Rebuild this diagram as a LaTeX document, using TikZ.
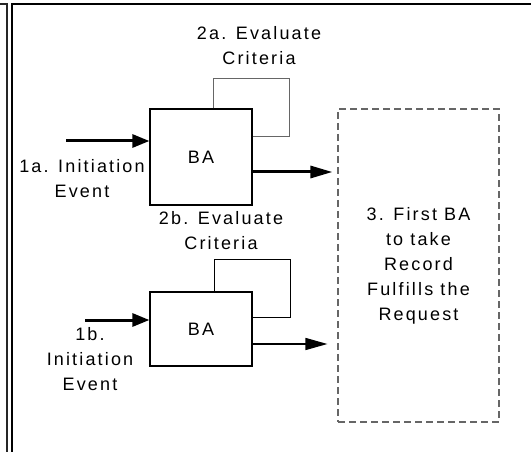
\documentclass[tikz,border=0pt]{standalone}
\usepackage{fontspec}
\setmainfont{Liberation Sans}[LetterSpace=12]
\usetikzlibrary{arrows.meta, positioning}

\begin{document}
\begin{tikzpicture}[x=1pt, y=-1pt,
  every node/.style={font=\fontsize{18}{25}\selectfont},
  babox/.style={draw, line width=1.2pt, minimum width=102pt, inner sep=0pt},
  loopline/.style={line width=0.9pt},
  inarrow/.style={line width=3pt, -{Triangle[length=17pt,width=13pt]}},
  outarrow/.style={-{Triangle[length=22pt,width=12pt]}},
  caption/.style={align=center}]
  \useasboundingbox (0,0) rectangle (531,452);

  % Frame edges.
  \draw[line width=1.5pt, black!85] (0,4) -- (7,4) -- (7,452);
  \draw[line width=1.5pt] (12,452) -- (12,4) -- (531,4);

  % The two BA boxes and the record box.
  \node [babox, minimum height=96pt] (ba1) at (201,157) {BA};
  \node [babox, minimum height=74pt] (ba2) at (201,329) {BA};
  \node [draw=black!60, line width=1.2pt,
    dash pattern=on 7pt off 4pt,
    minimum width=161pt,
    minimum height=313pt,
    caption] (rec) at (418.5,265.5)
    {3. First BA\\to take\\Record\\Fulfills the\\Request};

  % Labels.
  \node [caption] (eval1) at (259,46) {2a. Evaluate\\Criteria};
  \node [caption] (eval2) at (221,231) {2b. Evaluate\\Criteria};
  \node [caption] (init1) at (82,179) {1a. Initiation\\Event};
  \node [caption] (init2) at (90,359) {1b.\\Initiation\\Event};

  % Evaluation loops.
  \coordinate (l1a) at (213,78);
  \coordinate (l1b) at (289,136);
  \draw[black!60, loopline] (ba1.north -| l1a) -- (l1a) -| (l1b) -- (ba1.east |- l1b);
  \coordinate (l2a) at (214,259);
  \coordinate (l2b) at (290,317);
  \draw[loopline] (ba2.north -| l2a) -- (l2a) -| (l2b) -- (ba2.east |- l2b);

  % Initiation events.
  \coordinate (in1) at (66,141);
  \draw[inarrow] (in1) -- (ba1.west |- in1);
  \coordinate (in2) at (85,320);
  \draw[inarrow] (in2) -- (ba2.west |- in2);

  % Results to the record box.
  \coordinate (out1) at (252,172);
  \draw[line width=3pt, outarrow] (ba1.east |- out1) -- ([xshift=-5pt]rec.west |- out1);
  \coordinate (out2) at (252,344);
  \draw[line width=1.5pt, outarrow] (ba2.east |- out2) -- ([xshift=-10pt]rec.west |- out2);
\end{tikzpicture}
\end{document}
